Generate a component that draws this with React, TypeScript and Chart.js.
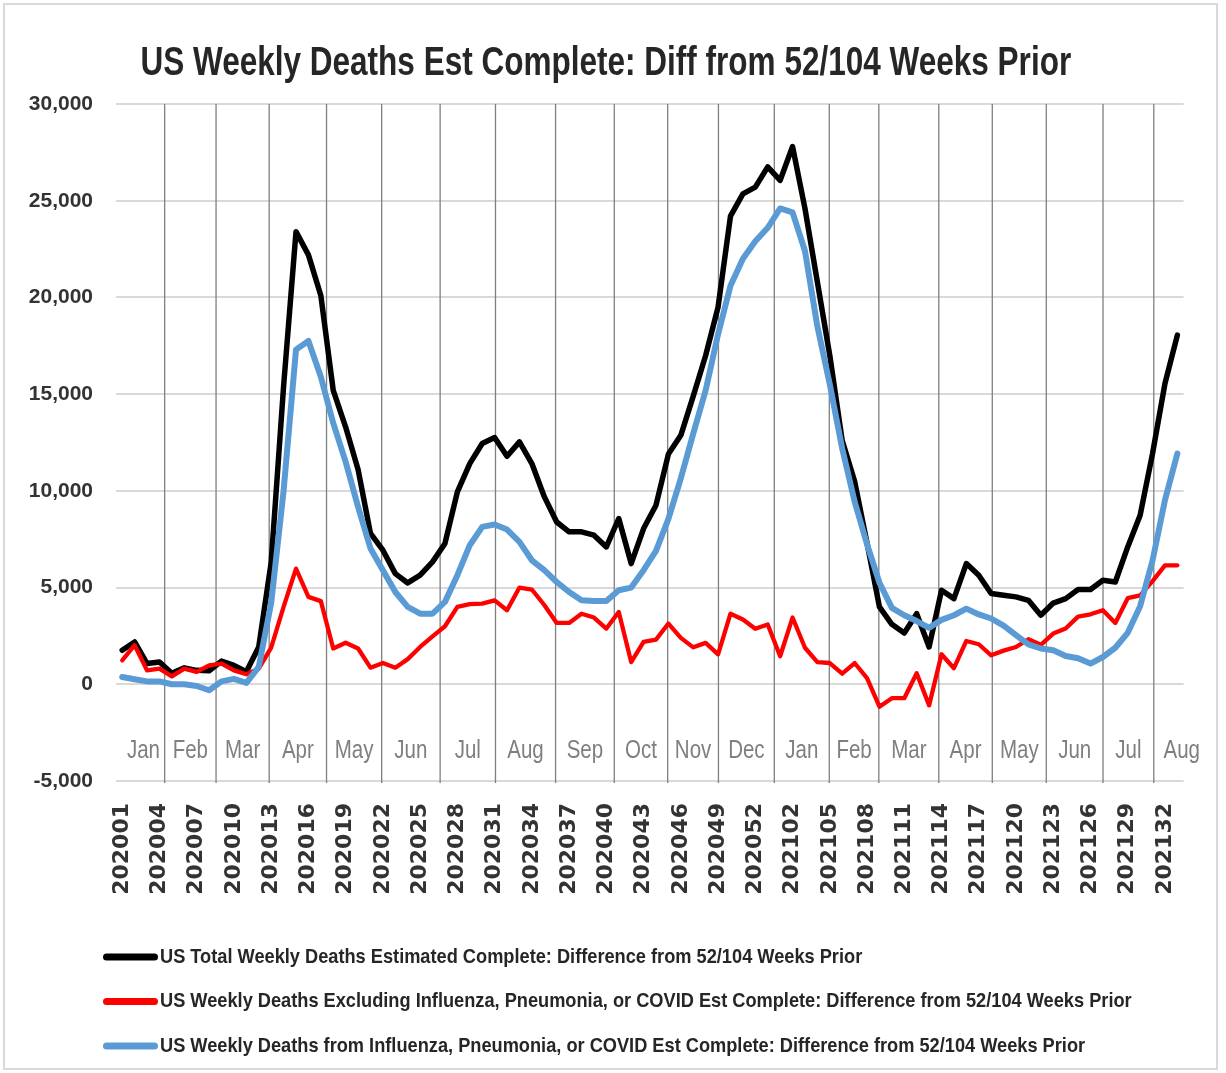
import React, { useEffect, useRef } from 'react';
import { Chart, registerables } from 'chart.js';

Chart.register(...registerables);

const W = 1226;
const H = 1073;
const SANS = "'Liberation Sans', Arial, sans-serif";

const chartTitle = 'US Weekly Deaths Est Complete: Diff from 52/104 Weeks Prior';

const weeks = [
  '202001', '202002', '202003', '202004', '202005', '202006', '202007', '202008', '202009', '202010',
  '202011', '202012', '202013', '202014', '202015', '202016', '202017', '202018', '202019', '202020',
  '202021', '202022', '202023', '202024', '202025', '202026', '202027', '202028', '202029', '202030',
  '202031', '202032', '202033', '202034', '202035', '202036', '202037', '202038', '202039', '202040',
  '202041', '202042', '202043', '202044', '202045', '202046', '202047', '202048', '202049', '202050',
  '202051', '202052', '202053', '202101', '202102', '202103', '202104', '202105', '202106', '202107',
  '202108', '202109', '202110', '202111', '202112', '202113', '202114', '202115', '202116', '202117',
  '202118', '202119', '202120', '202121', '202122', '202123', '202124', '202125', '202126', '202127',
  '202128', '202129', '202130', '202131', '202132', '202133',
];

const totalDiff = [
  1760, 2190, 1070, 1150, 570, 850, 720, 700, 1200, 980,
  650, 1930, 6300, 15400, 23400, 22200, 20100, 15200, 13300, 11100,
  7800, 6930, 5720, 5240, 5640, 6330, 7280, 9950, 11410, 12450,
  12760, 11790, 12530, 11410, 9700, 8390, 7880, 7880, 7710, 7100,
  8570, 6240, 8050, 9260, 11900, 12870, 14900, 17000, 19500, 24200,
  25350, 25700, 26750, 26050, 27800, 24600, 20800, 17000, 12600, 10500,
  7300, 4000, 3100, 2650, 3650, 1930, 4860, 4430, 6240, 5640,
  4690, 4600, 4520, 4340, 3570, 4200, 4430, 4900, 4900, 5380,
  5290, 7100, 8740, 11930, 15550, 18050,
];

const excludingDiff = [
  1240, 2020, 720, 810, 410, 810, 640, 980, 1070, 720,
  520, 810, 1900, 4000, 5980, 4520, 4300, 1850, 2150, 1850,
  860, 1100, 860, 1300, 1930, 2480, 3000, 4000, 4140, 4170,
  4340, 3830, 5000, 4900, 4100, 3170, 3170, 3650, 3450, 2880,
  3740, 1150, 2190, 2310, 3140, 2400, 1910, 2140, 1550, 3650,
  3350, 2870, 3090, 1450, 3450, 1890, 1150, 1100, 550, 1100,
  320, -1160, -720, -720, 570, -1090, 1550, 830, 2240, 2070,
  1500, 1740, 1930, 2330, 2040, 2620, 2880, 3500, 3620, 3830,
  3170, 4450, 4600, 5330, 6150, 6150,
];

const ipcDiff = [
  380, 260, 150, 150, 0, 0, -90, -310, 150, 280,
  70, 900, 4200, 10000, 17300, 17750, 15900, 13500, 11500, 9170,
  7020, 5900, 4770, 4000, 3650, 3650, 4260, 5640, 7190, 8140,
  8260, 8000, 7360, 6410, 5900, 5290, 4770, 4340, 4310, 4310,
  4860, 5000, 5900, 6900, 8550, 10650, 12960, 15200, 18100, 20600,
  22000, 22900, 23600, 24600, 24400, 22400, 18500, 15500, 12180, 9440,
  7240, 5250, 3950, 3570, 3270, 2920, 3330, 3570, 3910, 3610,
  3400, 3030, 2540, 2060, 1850, 1760, 1460, 1350, 1070, 1410,
  1890, 2660, 4040, 6400, 9520, 11930,
];

const seriesNames = [
  'US Total Weekly Deaths Estimated Complete: Difference from 52/104 Weeks Prior',
  'US Weekly Deaths Excluding Influenza, Pneumonia, or COVID Est Complete: Difference from 52/104 Weeks Prior',
  'US Weekly Deaths from Influenza, Pneumonia, or COVID Est Complete: Difference from 52/104 Weeks Prior',
];
const seriesColors = ['#000000', '#ff0000', '#5b9bd5'];
const seriesWidths = [5.5, 4.3, 6];

const monthNames = ['Jan', 'Feb', 'Mar', 'Apr', 'May', 'Jun', 'Jul', 'Aug', 'Sep', 'Oct', 'Nov', 'Dec',
  'Jan', 'Feb', 'Mar', 'Apr', 'May', 'Jun', 'Jul', 'Aug'];
// month boundaries, in week-index units
const monthEdges = [0, 3.42, 7.56, 11.84, 16.46, 20.9, 25.61, 30.07, 34.91, 39.64, 43.94, 48.03,
  52.53, 56.96, 60.95, 65.78, 70.09, 74.44, 79.01, 83.1, 87.6];

const yTicks = { min: -5000, max: 30000, step: 5000 };

const framePlugin = {
  id: 'frame',
  beforeDraw(chart: any) {
    const { ctx } = chart;
    ctx.save();
    ctx.fillStyle = '#ffffff';
    ctx.fillRect(0, 0, chart.width, chart.height);
    ctx.strokeStyle = '#d9d9d9';
    ctx.lineWidth = 2;
    ctx.strokeRect(4, 4, chart.width - 13, chart.height - 8);
    ctx.restore();
  },
};

const monthPlugin = {
  id: 'months',
  beforeDatasetsDraw(chart: any) {
    const { ctx, chartArea } = chart;
    const x = chart.scales.x;
    ctx.save();
    ctx.strokeStyle = '#7f7f7f';
    ctx.lineWidth = 1.3;
    for (let k = 1; k < monthEdges.length - 1; k++) {
      const px = x.getPixelForValue(monthEdges[k]);
      ctx.beginPath();
      ctx.moveTo(px, chartArea.top);
      ctx.lineTo(px, chartArea.bottom + 2);
      ctx.stroke();
    }
    ctx.fillStyle = '#7f7f7f';
    ctx.font = `25px ${SANS}`;
    ctx.textAlign = 'center';
    ctx.textBaseline = 'alphabetic';
    monthNames.forEach((m, k) => {
      const cx = (x.getPixelForValue(monthEdges[k]) + x.getPixelForValue(monthEdges[k + 1])) / 2;
      ctx.save();
      ctx.translate(cx, chartArea.bottom - 23);
      ctx.scale(0.82, 1);
      ctx.fillText(m, 0, 0);
      ctx.restore();
    });
    ctx.restore();
  },
};

const textPlugin = {
  id: 'texts',
  afterDraw(chart: any) {
    const { ctx, chartArea } = chart;
    // title
    ctx.save();
    ctx.font = `bold 40px ${SANS}`;
    ctx.fillStyle = '#262626';
    ctx.textAlign = 'center';
    ctx.textBaseline = 'alphabetic';
    ctx.translate((28 + chartArea.right) / 2, 75);
    ctx.scale(0.788, 1);
    ctx.fillText(chartTitle, 0, 0);
    ctx.restore();
    // legend
    seriesNames.forEach((name, i) => {
      const cy = 957 + i * 44.5;
      ctx.save();
      ctx.strokeStyle = seriesColors[i];
      ctx.lineWidth = 7;
      ctx.lineCap = 'round';
      ctx.beginPath();
      ctx.moveTo(106.5, cy);
      ctx.lineTo(154.5, cy);
      ctx.stroke();
      ctx.font = `bold 21px ${SANS}`;
      ctx.fillStyle = '#262626';
      ctx.textAlign = 'left';
      ctx.textBaseline = 'middle';
      ctx.translate(160, cy);
      ctx.scale(0.867, 1);
      ctx.fillText(name, 0, 0);
      ctx.restore();
    });
  },
};

export default function App() {
  const ref = useRef<HTMLCanvasElement>(null);

  useEffect(() => {
    const canvas = ref.current;
    if (!canvas) return;
    const values = [totalDiff, excludingDiff, ipcDiff];
    const chart = new Chart(canvas, {
      type: 'line',
      data: {
        labels: weeks,
        datasets: values.map((v, i) => ({
          label: seriesNames[i],
          data: v,
          borderColor: seriesColors[i],
          backgroundColor: seriesColors[i],
          borderWidth: seriesWidths[i],
          pointRadius: 0,
          pointHoverRadius: 0,
          tension: 0,
          fill: false,
          borderJoinStyle: 'round' as const,
          borderCapStyle: 'round' as const,
          order: 3 - i,
        })),
      },
      options: {
        responsive: false,
        animation: false,
        devicePixelRatio: 1,
        layout: { padding: { left: 28, right: 38, top: 104, bottom: 150.5 } },
        plugins: {
          tooltip: { enabled: false },
          title: { display: false },
          legend: { display: false },
        },
        scales: {
          x: {
            type: 'category',
            offset: true,
            grid: { display: false, drawTicks: false },
            border: { display: false },
            ticks: {
              autoSkip: false,
              maxRotation: 90,
              minRotation: 90,
              padding: 22,
              color: '#333333',
              font: { family: 'DejaVu Sans', size: 22, weight: 'bold' },
              callback: (_v: any, index: number) => (index % 3 === 0 ? weeks[index] : ''),
            },
            afterFit: (scale: any) => {
              scale.height = 141.5;
            },
          },
          y: {
            min: yTicks.min,
            max: yTicks.max,
            grid: { color: '#d9d9d9', lineWidth: 2, drawTicks: false },
            border: { display: false },
            ticks: {
              stepSize: yTicks.step,
              padding: 23,
              color: '#333333',
              font: { family: SANS, size: 21, weight: 'bold' },
              callback: (v: any) => Number(v).toLocaleString('en-US'),
            },
            afterFit: (scale: any) => {
              scale.width = 88;
            },
          },
        },
      },
      plugins: [framePlugin, monthPlugin, textPlugin],
    } as any);
    return () => chart.destroy();
  }, []);

  return (
    <div style={{ position: 'absolute', left: 0, top: 0, width: W, height: H, background: '#ffffff' }}>
      <canvas ref={ref} width={W} height={H} style={{ display: 'block', width: W, height: H }} />
    </div>
  );
}
